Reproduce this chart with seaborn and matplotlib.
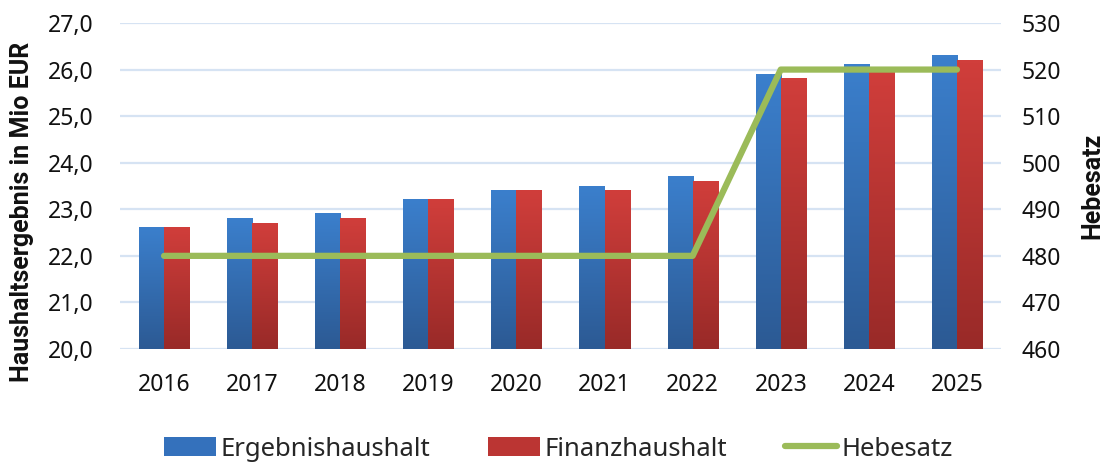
import numpy as np
import pandas as pd
import matplotlib
matplotlib.use("Agg")
import matplotlib.pyplot as plt
import seaborn as sns
from matplotlib.ticker import FuncFormatter, MultipleLocator
from matplotlib.colors import LinearSegmentedColormap
from matplotlib.patches import Patch
from matplotlib.lines import Line2D

# Data
years = ["2016", "2017", "2018", "2019", "2020", "2021", "2022", "2023", "2024", "2025"]
ergebnis = [22.6, 22.8, 22.9, 23.2, 23.4, 23.5, 23.7, 25.9, 26.1, 26.3]
finanz = [22.6, 22.7, 22.8, 23.2, 23.4, 23.4, 23.6, 25.8, 26.0, 26.2]
hebesatz = [480, 480, 480, 480, 480, 480, 480, 520, 520, 520]

df = pd.DataFrame({
    "Jahr": years * 2,
    "Wert": ergebnis + finanz,
    "Art": ["Ergebnishaushalt"] * len(years) + ["Finanzhaushalt"] * len(years),
})

sns.set_theme(style="white")
plt.rcParams["font.family"] = ["Noto Sans", "DejaVu Sans"]

blue_top, blue_bot = "#3B7FCC", "#2C5A94"
red_top, red_bot = "#D03E3B", "#992A28"
green = "#9BBB59"
grid_col = "#D6E3F3"

fig = plt.figure(figsize=(11.05, 4.65), dpi=100)
ax = fig.add_axes([120 / 1105, 1 - 349 / 465, 881 / 1105, 326 / 465])

sns.barplot(data=df, x="Jahr", y="Wert", hue="Art", order=years,
            palette=["#3469B0", "#B83432"], width=0.57, saturation=1,
            legend=False, ax=ax, zorder=2)

# gradient fill on the bars
n = len(years)
for i, p in enumerate(ax.patches[:2 * n]):
    top, bot = (blue_top, blue_bot) if i < n else (red_top, red_bot)
    cmap = LinearSegmentedColormap.from_list("g", [bot, top])
    x0, w = p.get_x(), p.get_width()
    h = p.get_height()
    grad = np.linspace(1, 0, 64).reshape(-1, 1)
    ax.imshow(grad, cmap=cmap, aspect="auto", extent=[x0, x0 + w, 20, h],
              zorder=2.5, interpolation="bicubic")
    p.set_alpha(0)

ax.set_ylim(20, 27)
ax.set_xlim(-0.5, 9.5)
ax.yaxis.set_major_locator(MultipleLocator(1))
ax.yaxis.set_major_formatter(FuncFormatter(lambda v, _: f"{v:.1f}".replace(".", ",")))
ax.grid(axis="y", color=grid_col, linewidth=1.6, zorder=0)
ax.set_axisbelow(True)
ax.set_xlabel("")
ax.set_ylabel("")
ax.tick_params(axis="y", length=0, pad=19, labelsize=16.5, colors="#111111")
ax.tick_params(axis="x", length=0, pad=17, labelsize=16.5, colors="#111111")
for s in ax.spines.values():
    s.set_visible(False)

ax2 = ax.twinx()
sns.lineplot(x=np.arange(n), y=hebesatz, color=green, linewidth=4.5, ax=ax2,
             zorder=5, solid_capstyle="round")
ax2.set_ylim(460, 530)
ax2.yaxis.set_major_locator(MultipleLocator(10))
ax2.tick_params(axis="y", length=0, pad=15, labelsize=16.5, colors="#111111")
ax2.set_ylabel("")
for s in ax2.spines.values():
    s.set_visible(False)
ax2.set_xlim(-0.5, 9.5)

lab_font = ["Roboto", "DejaVu Sans"]
fig.text(22 / 1105, 1 - 212 / 465, "Haushaltsergebnis in Mio EUR", rotation=90,
         ha="center", va="center", fontsize=18, fontweight="bold",
         family=lab_font, color="#111111")
fig.text(1092 / 1105, 1 - 186 / 465, "Hebesatz", rotation=90,
         ha="center", va="center", fontsize=18, fontweight="bold",
         family=lab_font, color="#111111")

handles = [
    Patch(facecolor="#3471BC", edgecolor="none"),
    Patch(facecolor="#BB3533", edgecolor="none"),
    Line2D([0], [0], color=green, linewidth=4.5, solid_capstyle="round"),
]
fig.legend(handles, ["Ergebnishaushalt", "Finanzhaushalt", "Hebesatz"],
           loc="center", bbox_to_anchor=(558 / 1105, 1 - 449 / 465), ncol=3,
           frameon=False, fontsize=18.5, handlelength=2.05, handleheight=0.75,
           handletextpad=0.15, columnspacing=2.25)

fig.savefig("out.png", dpi=100)
